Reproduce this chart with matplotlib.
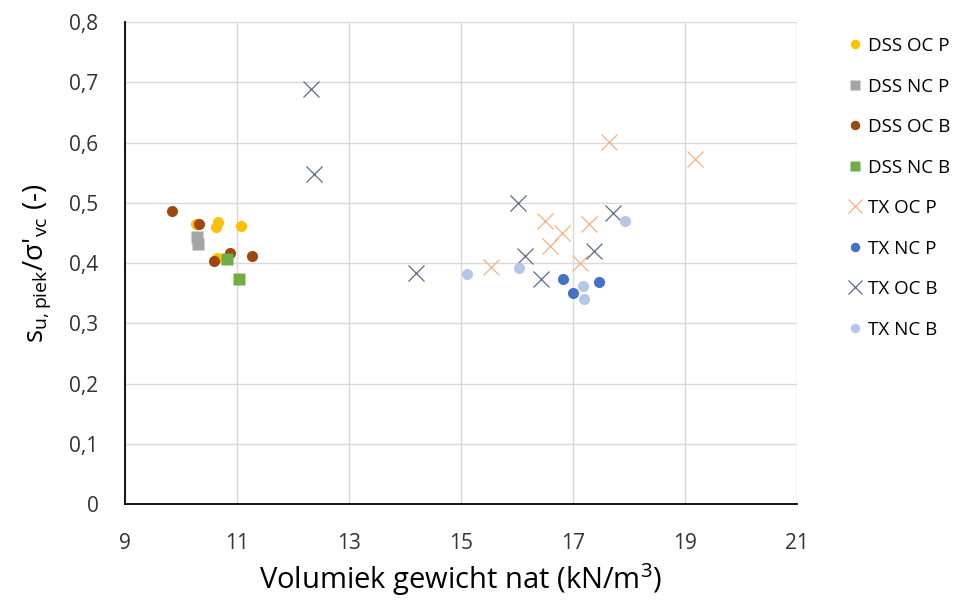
import matplotlib
matplotlib.use("Agg")
import matplotlib.pyplot as plt
from matplotlib.ticker import FuncFormatter

plt.rcParams['font.family'] = ['Open Sans', 'DejaVu Sans']
plt.rcParams['mathtext.fontset'] = 'custom'
plt.rcParams['mathtext.rm'] = 'Open Sans'
plt.rcParams['mathtext.it'] = 'Open Sans'

# Gegevens per reeks (volumiek gewicht, s_u/sigma'_vc)
dss_oc_p_x = [10.27, 10.62, 10.66, 11.07, 10.65]
dss_oc_p_y = [0.465, 0.459, 0.468, 0.461, 0.409]

dss_nc_p_x = [10.28, 10.31]
dss_nc_p_y = [0.444, 0.431]

dss_oc_b_x = [9.84, 10.32, 10.88, 10.59, 11.26]
dss_oc_b_y = [0.486, 0.464, 0.416, 0.403, 0.411]

dss_nc_b_x = [10.82, 11.04]
dss_nc_b_y = [0.406, 0.373]

tx_oc_p_x = [16.50, 16.80, 16.59, 17.28, 17.13, 15.54, 17.65, 19.18]
tx_oc_p_y = [0.469, 0.450, 0.428, 0.464, 0.400, 0.394, 0.601, 0.573]

tx_nc_p_x = [16.83, 17.00, 17.47]
tx_nc_p_y = [0.373, 0.351, 0.368]

tx_oc_b_x = [12.33, 12.37, 14.19, 16.01, 16.14, 16.42, 17.37, 17.72]
tx_oc_b_y = [0.689, 0.547, 0.384, 0.499, 0.412, 0.374, 0.420, 0.483]

tx_nc_b_x = [15.10, 16.04, 17.17, 17.19, 17.93]
tx_nc_b_y = [0.382, 0.391, 0.362, 0.340, 0.469]

fig = plt.figure(figsize=(9.57, 6.0), dpi=100)
ax = fig.add_axes([0.1306, 0.16, 0.7022, 0.8033])

ax.plot(dss_oc_p_x, dss_oc_p_y, 'o', ms=8, color='#FFC000', mec='none', label='DSS OC P')
ax.plot(dss_nc_p_x, dss_nc_p_y, 's', ms=8.5, color='#A5A5A5', mec='none', label='DSS NC P')
ax.plot(dss_oc_b_x, dss_oc_b_y, 'o', ms=8, color='#9E480E', mec='none', label='DSS OC B')
ax.plot(dss_nc_b_x, dss_nc_b_y, 's', ms=8.5, color='#70AD47', mec='none', label='DSS NC B')
ax.plot(tx_oc_p_x, tx_oc_p_y, 'x', ms=12, mew=0.9, color='#F4B183', label='TX OC P')
ax.plot(tx_nc_p_x, tx_nc_p_y, 'o', ms=8, color='#4472C4', mec='none', label='TX NC P')
ax.plot(tx_oc_b_x, tx_oc_b_y, 'x', ms=12, mew=0.9, color='#5B6B87', label='TX OC B')
ax.plot(tx_nc_b_x, tx_nc_b_y, 'o', ms=8, color='#B4C7E7', mec='none', label='TX NC B')

ax.set_xlim(9, 21)
ax.set_ylim(0, 0.8)
ax.set_xticks(range(9, 22, 2))
ax.set_yticks([i / 10 for i in range(9)])
ax.yaxis.set_major_formatter(FuncFormatter(lambda v, p: '0' if v == 0 else ('%.1f' % v).replace('.', ',')))

ax.grid(True, color='#D9D9D9', lw=1)
ax.set_axisbelow(True)
for s in ['top', 'right']:
    ax.spines[s].set_visible(False)
ax.spines['left'].set_color('black')
ax.spines['bottom'].set_color('black')
ax.spines['left'].set_linewidth(1.3)
ax.spines['bottom'].set_linewidth(1.3)
ax.tick_params(length=0, labelsize=15, colors='#333333')
ax.tick_params(axis='x', pad=21)
ax.tick_params(axis='y', pad=19)

ax.set_xlabel(r"Volumiek gewicht nat (kN/m$^{\mathregular{3}}$)", fontsize=21, labelpad=5)
ax.set_ylabel(r"s$_{\mathregular{u,piek}}$/σ'$_{\mathregular{vc}}$ (-)", fontsize=20, labelpad=12)

ax.legend(loc='upper left', bbox_to_anchor=(0.8757, 0.9508), bbox_transform=fig.transFigure,
          frameon=False, fontsize=13.5, labelspacing=1.2, handletextpad=0.2,
          handlelength=1.0, markerscale=0.85, borderaxespad=0)

fig.savefig('out.png', dpi=100)
